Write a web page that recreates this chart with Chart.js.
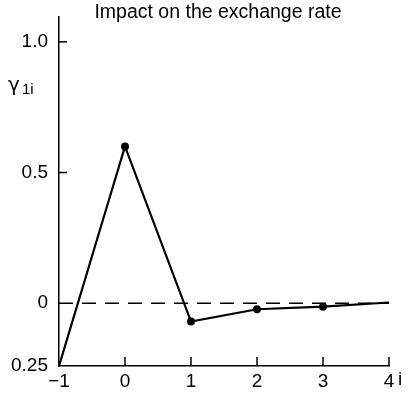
<!DOCTYPE html>
<html>
<head>
<meta charset="utf-8">
<script src="https://cdn.jsdelivr.net/npm/chart.js@4/dist/chart.umd.min.js"></script>
<style>
  html, body { margin: 0; padding: 0; background: #fff; }
  #wrap { width: 410px; height: 393px; }
</style>
</head>
<body>
<div id="wrap"><canvas id="chart" width="410" height="393"></canvas></div>
<script>
// data
const lags = [-1, 0, 1, 2, 3, 4];
const gamma = [-0.24, 0.6, -0.07, -0.023, -0.013, 0.003];
const markerRadius = [0, 4, 4, 4, 4, 0];
const zeroLine = [0, 0];
const zeroLineX = [-1, 4];
const yTicks = [-0.24, 0, 0.5, 1.0];
const yTickLabels = ["0.25", "0", "0.5", "1.0"];
const xTicks = [-1, 0, 1, 2, 3, 4];

const FONT = "'Liberation Sans', Arial, sans-serif";

// title, axis names and inward tick marks
const extras = {
  id: "extras",
  afterDraw(chart) {
    const ctx = chart.ctx;
    const xs = chart.scales.x, ys = chart.scales.y;
    ctx.save();
    ctx.strokeStyle = "#000";
    ctx.lineWidth = 1.5;
    // y ticks pointing right
    [0.5, 1.0].forEach(v => {
      const py = ys.getPixelForValue(v);
      ctx.beginPath();
      ctx.moveTo(xs.left, py);
      ctx.lineTo(xs.left + 8, py);
      ctx.stroke();
    });
    // x ticks pointing up
    [0, 1, 2, 3, 4].forEach(v => {
      const px = xs.getPixelForValue(v);
      ctx.beginPath();
      ctx.moveTo(px, ys.bottom);
      ctx.lineTo(px, ys.bottom - 9);
      ctx.stroke();
    });
    ctx.fillStyle = "#000";
    ctx.font = "19.5px " + FONT;
    ctx.textAlign = "center";
    ctx.textBaseline = "middle";
    ctx.fillText("Impact on the exchange rate", 218, 13);
    ctx.textAlign = "left";
    ctx.font = "19px " + FONT;
    ctx.fillText("i", 398, 380);
    ctx.font = "20px 'DejaVu Sans', sans-serif";
    ctx.fillText("\u03b3", 8, 86);
    ctx.font = "15px " + FONT;
    ctx.fillText("1i", 22, 90);
    ctx.restore();
  }
};

new Chart(document.getElementById("chart"), {
  type: "line",
  data: {
    datasets: [
      {
        data: lags.map((x, i) => ({ x, y: gamma[i] })),
        borderColor: "#000",
        backgroundColor: "#000",
        borderWidth: 2.2,
        pointRadius: markerRadius,
        pointBorderWidth: 0,
        tension: 0
      },
      {
        data: zeroLineX.map((x, i) => ({ x, y: zeroLine[i] })),
        borderColor: "#000",
        borderWidth: 1.3,
        borderDash: [14, 9],
        pointRadius: 0
      }
    ]
  },
  plugins: [extras],
  options: {
    responsive: false,
    animation: false,
    layout: { padding: { top: 17, right: 21, left: 0, bottom: 0 } },
    plugins: { legend: { display: false }, tooltip: { enabled: false } },
    scales: {
      x: {
        type: "linear",
        min: -1,
        max: 4,
        grid: { display: false, drawTicks: false },
        border: { display: true, color: "#000", width: 1.5 },
        afterBuildTicks: s => { s.ticks = xTicks.map(v => ({ value: v })); },
        ticks: {
          color: "#000",
          padding: 4,
          maxRotation: 0,
          font: { family: FONT, size: 19 },
          callback: v => (v < 0 ? "\u2212" + Math.abs(v) : String(v))
        },
        afterFit: s => { s.height = 27; s.paddingLeft = 0; s.paddingRight = 0; }
      },
      y: {
        min: -0.24,
        max: 1.095,
        grid: { display: false, drawTicks: false },
        border: { display: true, color: "#000", width: 1.5 },
        afterBuildTicks: s => { s.ticks = yTicks.map(v => ({ value: v })); },
        ticks: {
          color: "#000",
          padding: 11,
          font: { family: FONT, size: 19 },
          callback: v => yTickLabels[yTicks.indexOf(v)]
        },
        afterFit: s => { s.width = 59; s.paddingTop = 0; s.paddingBottom = 0; }
      }
    }
  }
});
</script>
</body>
</html>
